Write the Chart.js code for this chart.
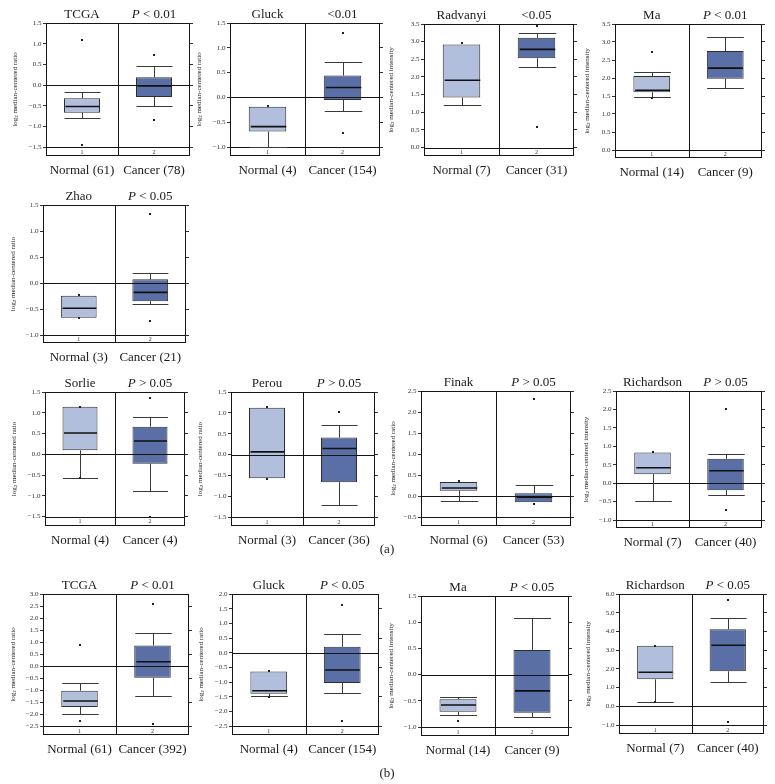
<!DOCTYPE html>
<html><head><meta charset="utf-8">
<script src="https://cdn.jsdelivr.net/npm/chart.js@4.4.1/dist/chart.umd.min.js"></script>
<style>
html,body{margin:0;padding:0;background:#fff;}
#wrap{position:relative;width:775px;height:784px;overflow:hidden;background:#fff;}
#wrap canvas{position:absolute;}
.cap{position:absolute;font:13px "Liberation Serif",serif;color:#222;transform:translate(-50%,-50%);white-space:nowrap;}
</style></head><body><div id="wrap"></div>
<script>
// ---------- data ----------
const titles   = ['TCGA','Gluck','Radvanyi','Ma','Zhao','Sorlie','Perou','Finak','Richardson','TCGA','Gluck','Ma','Richardson'];
const pTexts   = ['P < 0.01','<0.01','<0.05','P < 0.01','P < 0.05','P > 0.05','P > 0.05','P > 0.05','P > 0.05','P < 0.01','P < 0.05','P < 0.05','P < 0.05'];
const yUnits   = ['ratio','ratio','intensity','intensity','ratio','ratio','ratio','ratio','intensity','ratio','ratio','intensity','intensity'];
const nNormal  = [61,4,7,14,3,4,3,6,7,61,4,14,7];
const nCancer  = [78,154,31,9,21,4,36,53,40,392,154,9,40];
const tickHigh = [1.5,1.5,3.5,3.5,1.5,1.5,1.5,2.5,2.5,3.0,2.0,1.5,6.0];
const tickLow  = [-1.5,-1.0,0.0,0.0,-1.0,-1.5,-1.5,-0.5,-1.0,-2.5,-2.5,-1.0,-1.0];
const tickStep = [0.5,0.5,0.5,0.5,0.5,0.5,0.5,0.5,0.5,0.5,0.5,0.5,0.5];
// box statistics: [lower whisker, Q1, median, Q3, upper whisker]
const normalStats = [
  [-0.80,-0.67,-0.52,-0.32,-0.17],
  [-1.00,-0.69,-0.59,-0.19,-0.19],
  [1.21,1.415,1.905,2.92,2.92],
  [1.48,1.605,1.66,2.055,2.17],
  [-0.67,-0.67,-0.486,-0.243,-0.243],
  [-0.56,0.096,0.513,1.147,1.147],
  [-0.57,-0.57,0.064,1.12,1.12],
  [-0.11,0.127,0.19,0.333,0.333],
  [-0.48,0.244,0.416,0.83,0.83],
  [-1.99,-1.71,-1.46,-1.03,-0.70],
  [-1.49,-1.40,-1.30,-0.64,-0.64],
  [-0.78,-0.71,-0.58,-0.47,-0.43],
  [0.21,1.44,1.82,3.23,3.23]
];
const cancerStats = [
  [-0.52,-0.29,-0.02,0.185,0.46],
  [-0.28,-0.05,0.20,0.44,0.72],
  [2.29,2.53,2.78,3.11,3.25],
  [1.72,1.98,2.275,2.75,3.15],
  [-0.40,-0.35,-0.18,0.07,0.185],
  [-0.88,-0.225,0.32,0.666,0.90],
  [-1.20,-0.664,0.144,0.408,0.72],
  [-0.15,-0.15,-0.03,0.063,0.26],
  [-0.32,-0.19,0.335,0.66,0.79],
  [-1.23,-0.49,0.18,0.85,1.38],
  [-1.375,-1.03,-0.59,0.20,0.64],
  [-0.81,-0.73,-0.31,0.47,1.08],
  [1.30,1.87,3.26,4.12,4.74]
];
const normalOutliers = [[1.09,-1.45],[-0.18],[2.95],[2.72,1.45],[-0.24,-0.67],[1.15,-0.56],[1.136,-0.584],[0.35],[0.84],[0.86,-2.30],[-0.61,-1.51],[-0.88],[3.24,0.21]];
const cancerOutliers = [[0.72,-0.85],[1.30,-0.71],[3.43,0.59],[],[1.32,-0.735],[1.355,-1.5],[1.024],[2.32,-0.19],[2.02,-0.72],[2.59,-2.40],[1.61,-2.34],[],[5.67,-0.86]];

// ---------- layout (page pixels: frame left, top tick, right, bottom, strip height, ylabel offset) ----------
const frames = [
  [46,23,190,156,9,31],[230,23,380,156,9,31],[424,24,574,156,8.5,33],[615,24,762,158,8,28],
  [43,205,186,343,8,30],
  [45,392,185,526,9.4,31],[231,392,375,526,9,31],[421,391,571,526,9,28],[616,391,762,528,8,30],
  [43,594,189,735,9,30],[232,594,379,735,9,31],[421,596,569,736,9,30],[619,594,764,734,9,31]
];
const LIGHT = '#b1bfdc', DARK = '#5a6fa6';
const SERIF = '"Liberation Serif", "Times New Roman", serif';
const wrap = document.getElementById('wrap');
const fmt = v => (Math.abs(v) < 1e-9 ? '0.0' : v.toFixed(1).replace('-', '\u2212'));

function boxPlugin(i){
  return {
    id: 'box' + i,
    afterDatasetsDraw(chart){
      const ctx = chart.ctx, y = chart.scales.y, a = chart.chartArea;
      const meta = chart.getDatasetMeta(0);
      const stats = [normalStats[i], cancerStats[i]];
      const outs = [normalOutliers[i], cancerOutliers[i]];
      ctx.save();
      ctx.strokeStyle = '#151515'; ctx.lineWidth = 1;
      const hline = v => { const py = Math.round(y.getPixelForValue(v)) + 0.5; ctx.beginPath(); ctx.moveTo(a.left, py); ctx.lineTo(a.right, py); ctx.stroke(); };
      hline(0);
      if (tickLow[i] !== 0) hline(tickLow[i]);
      const mid = Math.round((meta.data[0].x + meta.data[1].x) / 2) + 0.5;
      ctx.beginPath(); ctx.moveTo(mid, a.top); ctx.lineTo(mid, a.bottom); ctx.stroke();
      for (let k = 0; k < 2; k++){
        const bar = meta.data[k], cx = Math.round(bar.x) + 0.5, hw = bar.width / 2, s = stats[k];
        ctx.strokeStyle = '#3a3a3a'; ctx.lineWidth = 1;
        const seg = (x1, y1, x2, y2) => { ctx.beginPath(); ctx.moveTo(x1, y1); ctx.lineTo(x2, y2); ctx.stroke(); };
        if (s[4] > s[3]) {
          const p3 = y.getPixelForValue(s[3]), p4 = Math.round(y.getPixelForValue(s[4])) + 0.5;
          seg(cx, p3, cx, p4); seg(cx - hw, p4, cx + hw, p4);
        }
        if (s[0] < s[1]) {
          const p1 = y.getPixelForValue(s[1]), p0 = Math.round(y.getPixelForValue(s[0])) + 0.5;
          seg(cx, p1, cx, p0); seg(cx - hw, p0, cx + hw, p0);
        }
        ctx.strokeStyle = '#111'; ctx.lineWidth = 1.6;
        const pm = y.getPixelForValue(s[2]);
        seg(cx - hw + 1, pm, cx + hw - 1, pm);
        ctx.fillStyle = '#222';
        outs[k].forEach(v => { const py = y.getPixelForValue(v); ctx.fillRect(Math.round(bar.x) - 1, Math.round(py) - 1, 2, 2); });
        ctx.font = '6px ' + SERIF; ctx.textAlign = 'center'; ctx.textBaseline = 'middle'; ctx.fillStyle = '#333';
        ctx.fillText(String(k + 1), bar.x, (y.getPixelForValue(tickLow[i]) + a.bottom) / 2 + 0.5);
      }
      ctx.strokeStyle = '#151515'; ctx.lineWidth = 1;
      ctx.strokeRect(Math.round(a.left) + 0.5, Math.round(a.top) + 0.5, Math.round(a.width) - 1, Math.round(a.height) - 1);
      ctx.restore();
    },
    afterDraw(chart){
      const ctx = chart.ctx, a = chart.chartArea, meta = chart.getDatasetMeta(0);
      ctx.save();
      ctx.fillStyle = '#1a1a1a'; ctx.textBaseline = 'alphabetic'; ctx.textAlign = 'left';
      const by = a.top - 5;
      ctx.font = '13px ' + SERIF;
      const tw = ctx.measureText(titles[i]).width;
      ctx.fillText(titles[i], meta.data[0].x - tw / 2, by);
      const p = pTexts[i];
      if (p.startsWith('P')) {
        ctx.font = 'italic 13px ' + SERIF; const w1 = ctx.measureText('P').width;
        ctx.font = '13px ' + SERIF; const rest = p.slice(1); const w2 = ctx.measureText(rest).width;
        const x0 = meta.data[1].x - (w1 + w2) / 2;
        ctx.font = 'italic 13px ' + SERIF; ctx.fillText('P', x0, by);
        ctx.font = '13px ' + SERIF; ctx.fillText(rest, x0 + w1, by);
      } else {
        const w = ctx.measureText(p).width; ctx.fillText(p, meta.data[1].x - w / 2, by);
      }
      // rotated y-axis label
      const t1 = 'log', t2 = '2', t3 = ' median-centered ' + yUnits[i];
      ctx.font = '7px ' + SERIF; const w1 = ctx.measureText(t1).width, w3 = ctx.measureText(t3).width;
      ctx.font = '5px ' + SERIF; const w2 = ctx.measureText(t2).width;
      const total = w1 + w2 + w3;
      ctx.translate(a.left - frames[i][5], (a.top + a.bottom) / 2);
      ctx.rotate(-Math.PI / 2);
      ctx.textBaseline = 'middle';
      let xx = -total / 2;
      ctx.font = '7px ' + SERIF; ctx.fillText(t1, xx, 0); xx += w1;
      ctx.font = '5px ' + SERIF; ctx.fillText(t2, xx, 2); xx += w2;
      ctx.font = '7px ' + SERIF; ctx.fillText(t3, xx, 0);
      ctx.restore();
    }
  };
}

function makePanel(i){
  const [L, T, R, B, strip] = frames[i];
  const padTop = 22, axisW = 48, rightW = 10, botH = 22, extraBottom = 12;
  const cw = Math.round(R - L + axisW + rightW), ch = Math.round(B - T + padTop + botH + extraBottom);
  const cv = document.createElement('canvas');
  cv.width = cw; cv.height = ch;
  cv.style.left = (L - axisW) + 'px'; cv.style.top = (T - padTop) + 'px';
  cv.style.width = cw + 'px'; cv.style.height = ch + 'px';
  wrap.appendChild(cv);
  const hi = tickHigh[i], lo = tickLow[i];
  const yMin = lo - strip * (hi - lo) / (B - T - strip);
  const tickVals = [];
  for (let v = lo; v <= hi + 1e-9; v += tickStep[i]) tickVals.push(+v.toFixed(3));
  const setTicks = s => { s.ticks = tickVals.map(v => ({ value: v })); };
  const ns = normalStats[i], cs = cancerStats[i];
  new Chart(cv, {
    type: 'bar',
    data: {
      labels: ['Normal (' + nNormal[i] + ')', 'Cancer (' + nCancer[i] + ')'],
      datasets: [{
        data: [[ns[1], ns[3]], [cs[1], cs[3]]],
        backgroundColor: [LIGHT, DARK],
        borderColor: '#2e2e2e', borderWidth: 1, borderSkipped: false,
        barPercentage: 0.5, categoryPercentage: 1
      }]
    },
    options: {
      responsive: false, animation: false, devicePixelRatio: 1,
      layout: { padding: { top: padTop, left: 0, right: 0, bottom: extraBottom } },
      plugins: { legend: { display: false }, tooltip: { enabled: false }, title: { display: false } },
      scales: {
        x: {
          offset: true,
          grid: { display: false }, border: { display: false },
          ticks: { font: { family: SERIF, size: 13 }, color: '#1a1a1a', padding: -1, maxRotation: 0, autoSkip: false },
          afterFit: s => { s.height = botH; }
        },
        y: {
          type: 'linear', position: 'left', min: yMin, max: hi, beginAtZero: false,
          afterBuildTicks: setTicks,
          ticks: { font: { family: SERIF, size: 7 }, color: '#333', padding: 1.5, callback: v => fmt(v) },
          grid: { drawOnChartArea: false, drawTicks: true, tickLength: 3, color: '#333' },
          border: { display: false },
          afterFit: s => { s.width = axisW; }
        },
        yr: {
          type: 'linear', position: 'right', min: yMin, max: hi, beginAtZero: false,
          afterBuildTicks: setTicks,
          ticks: { callback: () => '', padding: 0 },
          grid: { drawOnChartArea: false, drawTicks: true, tickLength: 3, color: '#333' },
          border: { display: false },
          afterFit: s => { s.width = rightW; }
        }
      }
    },
    plugins: [boxPlugin(i)]
  });
}
for (let i = 0; i < titles.length; i++) makePanel(i);

const caps = [['(a)', 387, 549], ['(b)', 387, 773]];
caps.forEach(([t, x, y]) => { const d = document.createElement('div'); d.className = 'cap'; d.textContent = t; d.style.left = x + 'px'; d.style.top = y + 'px'; wrap.appendChild(d); });
</script></body></html>
